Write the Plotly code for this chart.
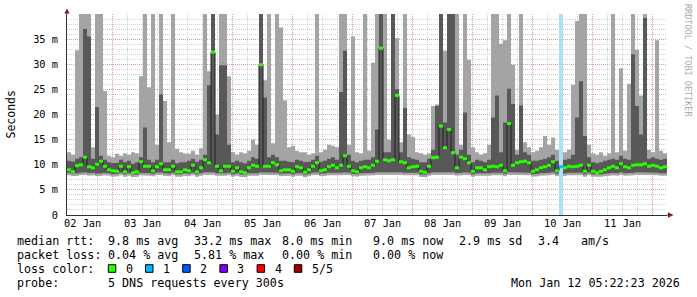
import plotly.graph_objects as go
from datetime import datetime, timedelta

# ---------------- data ----------------
start_time = datetime(2026, 1, 2, 5, 45)   # left edge of the graph
step_minutes = 96                          # one consolidated column

median_ms = [
    9.0, 8.6, 9.8, 10.0, 11.5, 9.6, 9.4, 10.1, 10.7, 9.7,
    9.0, 8.8, 8.7, 9.7, 8.6, 9.6, 8.4, 8.6, 10.6, 9.7,
    9.7, 8.8, 9.6, 10.2, 9.0, 9.0, 9.7, 8.6, 8.6, 9.0,
    8.8, 9.9, 8.6, 9.4, 11.0, 10.4, 32.4, 9.7, 8.8, 9.7,
    9.7, 8.7, 9.4, 8.6, 8.4, 9.4, 9.9, 9.7, 29.9, 9.7,
    9.7, 10.4, 10.0, 8.8, 9.0, 9.0, 8.7, 9.6, 9.4, 8.5,
    9.0, 9.7, 10.4, 8.8, 9.0, 9.6, 9.9, 9.4, 9.9, 11.8,
    9.7, 8.8, 8.6, 9.4, 9.6, 9.4, 9.9, 10.7, 33.2, 11.0,
    10.8, 11.0, 23.8, 10.6, 10.4, 9.4, 9.6, 9.7, 8.7, 8.5,
    9.7, 11.4, 11.5, 17.7, 13.4, 17.0, 12.4, 9.4, 11.5, 11.2,
    10.4, 8.7, 9.4, 9.4, 9.0, 9.6, 9.7, 9.6, 9.9, 8.8,
    18.2, 9.9, 10.4, 10.6, 10.7, 10.4, 8.7, 9.0, 9.4, 9.6,
    9.9, 10.6, 8.8, 9.6, 9.4, 9.7, 9.6, 9.7, 9.9, 8.7,
    9.9, 8.7, 8.4, 8.7, 9.0, 9.4, 9.7, 9.4, 10.2, 9.6,
    9.4, 9.9, 10.0, 10.0, 10.2, 9.7, 9.9, 9.7, 9.4, 9.6,
]

# outer smoke: fastest .. slowest ping
smoke_min_ms = [
    7.9, 7.7, 7.8, 7.9, 8.0, 7.8, 7.9, 7.7, 7.8, 7.9,
    7.8, 7.6, 7.7, 7.9, 7.6, 7.8, 7.5, 7.6, 7.9, 7.8,
    7.8, 7.7, 7.9, 8.0, 7.8, 7.7, 7.9, 7.6, 7.6, 7.8,
    7.7, 7.9, 7.6, 7.8, 8.0, 7.9, 8.0, 7.8, 7.7, 7.8,
    7.9, 7.6, 7.8, 7.6, 7.5, 7.8, 7.9, 7.8, 8.0, 7.9,
    7.9, 8.0, 7.9, 7.7, 7.8, 7.8, 7.6, 7.8, 7.8, 7.5,
    7.7, 7.9, 8.0, 7.7, 7.8, 7.9, 7.9, 7.8, 7.9, 8.0,
    7.9, 7.7, 7.6, 7.8, 7.8, 7.8, 7.9, 8.0, 8.1, 8.0,
    8.0, 8.0, 8.1, 8.0, 7.9, 7.8, 7.8, 7.9, 7.6, 7.5,
    7.8, 8.0, 8.0, 8.1, 8.0, 8.1, 8.0, 7.8, 7.9, 8.0,
    7.9, 7.6, 7.8, 7.8, 7.7, 7.8, 7.9, 7.8, 7.9, 7.7,
    8.0, 7.9, 7.9, 8.0, 8.0, 7.9, 7.6, 7.7, 7.8, 7.8,
    7.9, 8.0, 7.7, 7.8, 7.8, 7.9, 7.8, 7.9, 7.9, 7.6,
    7.9, 7.6, 7.5, 7.6, 7.7, 7.8, 7.9, 7.8, 8.0, 7.8,
    7.8, 7.9, 8.0, 8.0, 8.0, 7.9, 7.9, 7.9, 7.8, 7.8,
]
smoke_max_ms = [
    12.5, 12.0, 32.8, 40, 40, 40, 13.5, 40, 40, 24.7,
    11.8, 11.5, 12.2, 11.8, 12.3, 12.0, 12.5, 12.3, 27.6, 40,
    25.4, 40, 14.0, 40, 22.7, 14.5, 40, 13.2, 12.5, 12.3,
    12.2, 12.8, 12.0, 13.3, 40, 28.6, 40, 20.0, 40, 40,
    27.6, 12.5, 12.0, 12.5, 12.3, 12.8, 15.0, 14.0, 40, 26.8,
    40, 14.3, 40, 37.3, 22.8, 13.5, 13.8, 12.8, 12.5, 12.5,
    12.0, 12.3, 40, 12.5, 13.0, 14.0, 13.8, 13.5, 40, 40,
    14.0, 35.5, 12.5, 12.3, 40, 12.8, 30.3, 40, 40, 40,
    15.0, 40, 35.2, 14.5, 40, 16.0, 15.5, 12.5, 12.3, 12.0,
    12.3, 21.7, 22.0, 40, 32.7, 40, 40, 40, 14.0, 40,
    30.9, 13.5, 12.5, 12.0, 12.3, 14.0, 40, 40, 34.1, 34.8,
    40, 29.9, 13.0, 40, 14.5, 13.5, 12.5, 12.8, 13.5, 15.7,
    14.0, 15.4, 13.0, 12.0, 12.5, 13.0, 25.9, 38.6, 40, 40,
    14.0, 12.3, 12.0, 12.5, 11.8, 12.3, 40, 12.5, 29.2, 12.8,
    26.1, 40, 32.9, 23.8, 40, 13.0, 12.5, 34.8, 12.8, 12.3,
]
# inner smoke: 2nd .. 4th ping
smoke_low_ms = [
    8.4, 8.2, 8.3, 8.4, 8.5, 8.3, 8.4, 8.2, 8.3, 8.4,
    8.3, 8.1, 8.2, 8.4, 8.1, 8.3, 8.0, 8.1, 8.4, 8.3,
    8.3, 8.2, 8.4, 8.5, 8.3, 8.2, 8.4, 8.1, 8.1, 8.3,
    8.2, 8.4, 8.1, 8.3, 8.5, 8.4, 8.5, 8.3, 8.2, 8.3,
    8.4, 8.1, 8.3, 8.1, 8.0, 8.3, 8.4, 8.3, 8.5, 8.4,
    8.4, 8.5, 8.4, 8.2, 8.3, 8.3, 8.1, 8.3, 8.3, 8.0,
    8.2, 8.4, 8.5, 8.2, 8.3, 8.4, 8.4, 8.3, 8.4, 8.5,
    8.4, 8.2, 8.1, 8.3, 8.3, 8.3, 8.4, 8.5, 8.6, 8.5,
    8.5, 8.5, 8.6, 8.5, 8.4, 8.3, 8.3, 8.4, 8.1, 8.0,
    8.3, 8.5, 8.5, 8.6, 8.5, 8.6, 8.5, 8.3, 8.4, 8.5,
    8.4, 8.1, 8.3, 8.3, 8.2, 8.3, 8.4, 8.3, 8.4, 8.2,
    8.5, 8.4, 8.4, 8.5, 8.5, 8.4, 8.1, 8.2, 8.3, 8.3,
    8.4, 8.5, 8.2, 8.3, 8.3, 8.4, 8.3, 8.4, 8.4, 8.1,
    8.4, 8.1, 8.0, 8.1, 8.2, 8.3, 8.4, 8.3, 8.5, 8.3,
    8.3, 8.4, 8.5, 8.5, 8.5, 8.4, 8.4, 8.4, 8.3, 8.3,
]
smoke_high_ms = [
    10.8, 10.6, 11.2, 11.5, 37.0, 35.5, 11.2, 21.5, 11.8, 11.0,
    10.5, 10.3, 10.4, 11.0, 10.5, 10.8, 10.2, 10.5, 11.5, 17.4,
    11.0, 10.5, 11.0, 24.0, 10.5, 10.5, 11.0, 10.3, 10.5, 10.5,
    10.8, 11.2, 10.6, 11.0, 12.0, 25.8, 40, 16.0, 29.8, 29.8,
    14.0, 10.5, 10.8, 10.5, 10.3, 10.8, 11.5, 11.2, 40, 23.4,
    11.5, 12.0, 11.5, 10.8, 10.8, 10.6, 10.5, 11.0, 10.8, 10.5,
    10.6, 11.0, 11.8, 10.6, 10.8, 11.2, 11.5, 11.0, 24.5, 32.7,
    12.0, 10.8, 10.5, 10.8, 11.0, 11.0, 11.5, 17.0, 40, 12.5,
    12.5, 40, 25.0, 12.5, 21.3, 11.5, 11.2, 11.0, 10.5, 10.5,
    11.2, 13.0, 21.7, 40, 18.4, 40, 40, 12.0, 13.0, 20.4,
    12.0, 10.5, 11.0, 10.8, 10.5, 11.0, 19.4, 23.8, 12.5, 18.4,
    25.1, 22.1, 12.0, 21.8, 12.5, 12.0, 10.8, 10.8, 11.0, 11.2,
    11.5, 12.0, 10.8, 11.0, 11.0, 11.2, 12.0, 19.4, 26.6, 15.7,
    11.5, 10.5, 10.3, 10.5, 10.8, 11.0, 11.2, 11.0, 11.8, 11.2,
    11.0, 32.0, 21.7, 16.0, 39.2, 11.2, 11.5, 11.2, 11.0, 11.2,
]
# columns with lost pings: column index -> pings lost (of 5)
loss_events = {123: 1}

y_tick_values = [0, 5, 10, 15, 20, 25, 30, 35]
y_tick_labels = ["0", "5 m", "10 m", "15 m", "20 m", "25 m", "30 m", "35 m"]
day_label_dates = [datetime(2026, 1, d) for d in range(2, 12)]
day_labels = ["02 Jan", "03 Jan", "04 Jan", "05 Jan", "06 Jan",
              "07 Jan", "08 Jan", "09 Jan", "10 Jan", "11 Jan"]

median_label = "median rtt:"
median_stats = ["9.8 ms avg", "33.2 ms max", "8.0 ms min", "9.0 ms now",
                "2.9 ms sd", "3.4", "am/s"]
loss_label = "packet loss:"
loss_stats = ["0.04 % avg", "5.81 % max", "0.00 % min", "0.00 % now"]
color_label = "loss color:"
loss_color_names = ["0", "1", "2", "3", "4", "5/5"]
loss_colors = ["#26ff00", "#00b8ff", "#0059ff", "#7e00ff", "#ff0000", "#a10000"]
probe_label = "probe:"
probe_text = "5 DNS requests every 300s"
stamp_text = "Mon Jan 12 05:22:23 2026"
watermark = "RRDTOOL / TOBI OETIKER"
y_title = "Seconds"

# ---------------- styles / layout constants ----------------
MONO = "DejaVu Sans Mono"
LIGHT_SMOKE = "#a4a4a4"
DARK_SMOKE = "#585858"
MAJOR_GRID = "rgba(255,0,0,0.25)"
MINOR_GRID = "#d2d2d2"
DOTS = "1px,1px"
L, R, T, B = 67, 667, 14, 215
W, H = 697, 297


def px(x):
    return (x - L) / (R - L)


def py(y):
    return (B - y) / (B - T)


n = len(median_ms)
edges = [start_time + timedelta(minutes=step_minutes * i) for i in range(n + 1)]


def step_xy(vals):
    xs, ys = [], []
    for i, v in enumerate(vals):
        xs += [edges[i], edges[i + 1]]
        ys += [v, v]
    return xs, ys


fig = go.Figure()

# smoke bands
for lo, hi, col in [(smoke_min_ms, smoke_max_ms, LIGHT_SMOKE),
                    (smoke_low_ms, smoke_high_ms, DARK_SMOKE)]:
    xl, yl = step_xy(lo)
    xh, yh = step_xy(hi)
    fig.add_trace(go.Scatter(x=xl, y=yl, mode="lines", line=dict(width=0),
                             hoverinfo="skip", showlegend=False))
    fig.add_trace(go.Scatter(x=xh, y=yh, mode="lines", line=dict(width=0),
                             fill="tonexty", fillcolor=col,
                             hoverinfo="skip", showlegend=False))

# loss background bars
for idx, lost in loss_events.items():
    x0, x1 = edges[idx], edges[idx + 1]
    fig.add_trace(go.Scatter(x=[x0, x1, x1, x0, x0], y=[0, 0, 40, 40, 0],
                             mode="lines", line=dict(width=0), fill="toself",
                             fillcolor="#addff5", hoverinfo="skip",
                             showlegend=False))

# thin median line
xm, ym = step_xy(median_ms)
fig.add_trace(go.Scatter(x=xm, y=ym, mode="lines",
                         line=dict(color="#202020", width=1),
                         hoverinfo="skip", showlegend=False))

# coloured median segments by loss
for lost_count, colr in enumerate(loss_colors):
    xs, ys = [], []
    for i, m in enumerate(median_ms):
        if loss_events.get(i, 0) == lost_count:
            xs += [edges[i], edges[i + 1], None]
            ys += [m, m, None]
    if xs:
        fig.add_trace(go.Scatter(x=xs, y=ys, mode="lines",
                                 line=dict(color=colr, width=3),
                                 hoverinfo="skip", showlegend=False))

# dummy trace carrying the midnight grid axis
fig.add_trace(go.Scatter(x=[edges[0], edges[-1]], y=[None, None], xaxis="x2",
                         mode="lines", hoverinfo="skip", showlegend=False))

noon = [d + timedelta(hours=12) for d in day_label_dates]
midnights = [d + timedelta(days=1) for d in day_label_dates]

fig.update_layout(
    width=W, height=H,
    margin=dict(l=L, r=W - R, t=T, b=H - B, pad=0),
    paper_bgcolor="white", plot_bgcolor="white", showlegend=False,
    font=dict(family=MONO, size=10.3, color="#000000"),
    xaxis=dict(type="date", range=[edges[0], edges[-1]],
               tickmode="array", tickvals=noon, ticktext=day_labels,
               showgrid=False, ticks="", ticklabelstandoff=-1,
               showline=True, linecolor="#303030", linewidth=1,
               zeroline=False,
               minor=dict(tickmode="linear", tick0="2026-01-02",
                          dtick=6 * 3600 * 1000, showgrid=True,
                          gridcolor=MINOR_GRID, griddash=DOTS, gridwidth=1,
                          ticks="")),
    xaxis2=dict(type="date", overlaying="x", matches="x", side="bottom",
                tickmode="array", tickvals=midnights, showticklabels=False,
                showgrid=True, gridcolor=MAJOR_GRID, griddash=DOTS,
                gridwidth=1, ticks="", showline=False, zeroline=False),
    yaxis=dict(range=[0, 40], tickmode="array", tickvals=y_tick_values,
               ticktext=y_tick_labels, showgrid=True, gridcolor=MAJOR_GRID,
               griddash=DOTS, gridwidth=1, ticks="", ticklabelstandoff=6,
               showline=True, linecolor="#303030", linewidth=1,
               zeroline=False,
               minor=dict(tickmode="linear", tick0=0, dtick=1, showgrid=True,
                          gridcolor=MINOR_GRID, griddash=DOTS, gridwidth=1,
                          ticks="")),
)

# arrows at axis ends
fig.add_shape(type="path", xref="paper", yref="paper",
              path=f"M {px(64.3)} {py(13.5)} L {px(67)} {py(8.5)} L {px(69.7)} {py(13.5)} Z",
              fillcolor="#8e1b1b", line=dict(width=0))
fig.add_shape(type="path", xref="paper", yref="paper",
              path=f"M {px(668)} {py(212.3)} L {px(673.5)} {py(215)} L {px(668)} {py(217.7)} Z",
              fillcolor="#8e1b1b", line=dict(width=0))
fig.add_shape(type="line", xref="paper", yref="paper",
              x0=px(667), x1=px(668.5), y0=py(215), y1=py(215),
              line=dict(color="#303030", width=1))
fig.add_shape(type="line", xref="paper", yref="paper",
              x0=px(67), x1=px(67), y0=py(14), y1=py(12),
              line=dict(color="#303030", width=1))

ann = []


def text(s, x, y, anchor="left", size=11.7, color="#000000", angle=0):
    ann.append(dict(text=s, x=px(x), y=py(y), xref="paper", yref="paper",
                    showarrow=False, xanchor=anchor, yanchor="middle",
                    borderpad=0, textangle=angle,
                    font=dict(family=MONO, size=size, color=color)))


rows_y = [240.5, 254.5, 268.5, 282.5]
stat_x = [107.3, 192.7, 280.5, 372.3, 458.3, 536.7, 580]

text(median_label, 16, rows_y[0])
for s, x in zip(median_stats, stat_x):
    text(s, x, rows_y[0])
text(loss_label, 16, rows_y[1])
for s, x in zip(loss_stats, stat_x):
    text(s, x, rows_y[1])
text(color_label, 16, rows_y[2])
for k, (name, colr) in enumerate(zip(loss_color_names, loss_colors)):
    bx = 108.3 + 37.2 * k
    fig.add_shape(type="rect", xref="paper", yref="paper",
                  x0=px(bx), x1=px(bx + 7.5),
                  y0=py(rows_y[2] + 3.8), y1=py(rows_y[2] - 3.8),
                  fillcolor=colr, line=dict(color="#000000", width=1))
    text(name, bx + 16.5, rows_y[2])
text(probe_label, 16, rows_y[3])
text(probe_text, 107.3, rows_y[3])
text(stamp_text, 681, rows_y[3], anchor="right")

text(y_title, 10, (T + B) / 2, anchor="center", size=11.5, angle=-90)
text(watermark, 688, 60, anchor="center", size=8.5, color="#ababab", angle=90)

fig.update_layout(annotations=ann)
fig.write_html("out.html")
